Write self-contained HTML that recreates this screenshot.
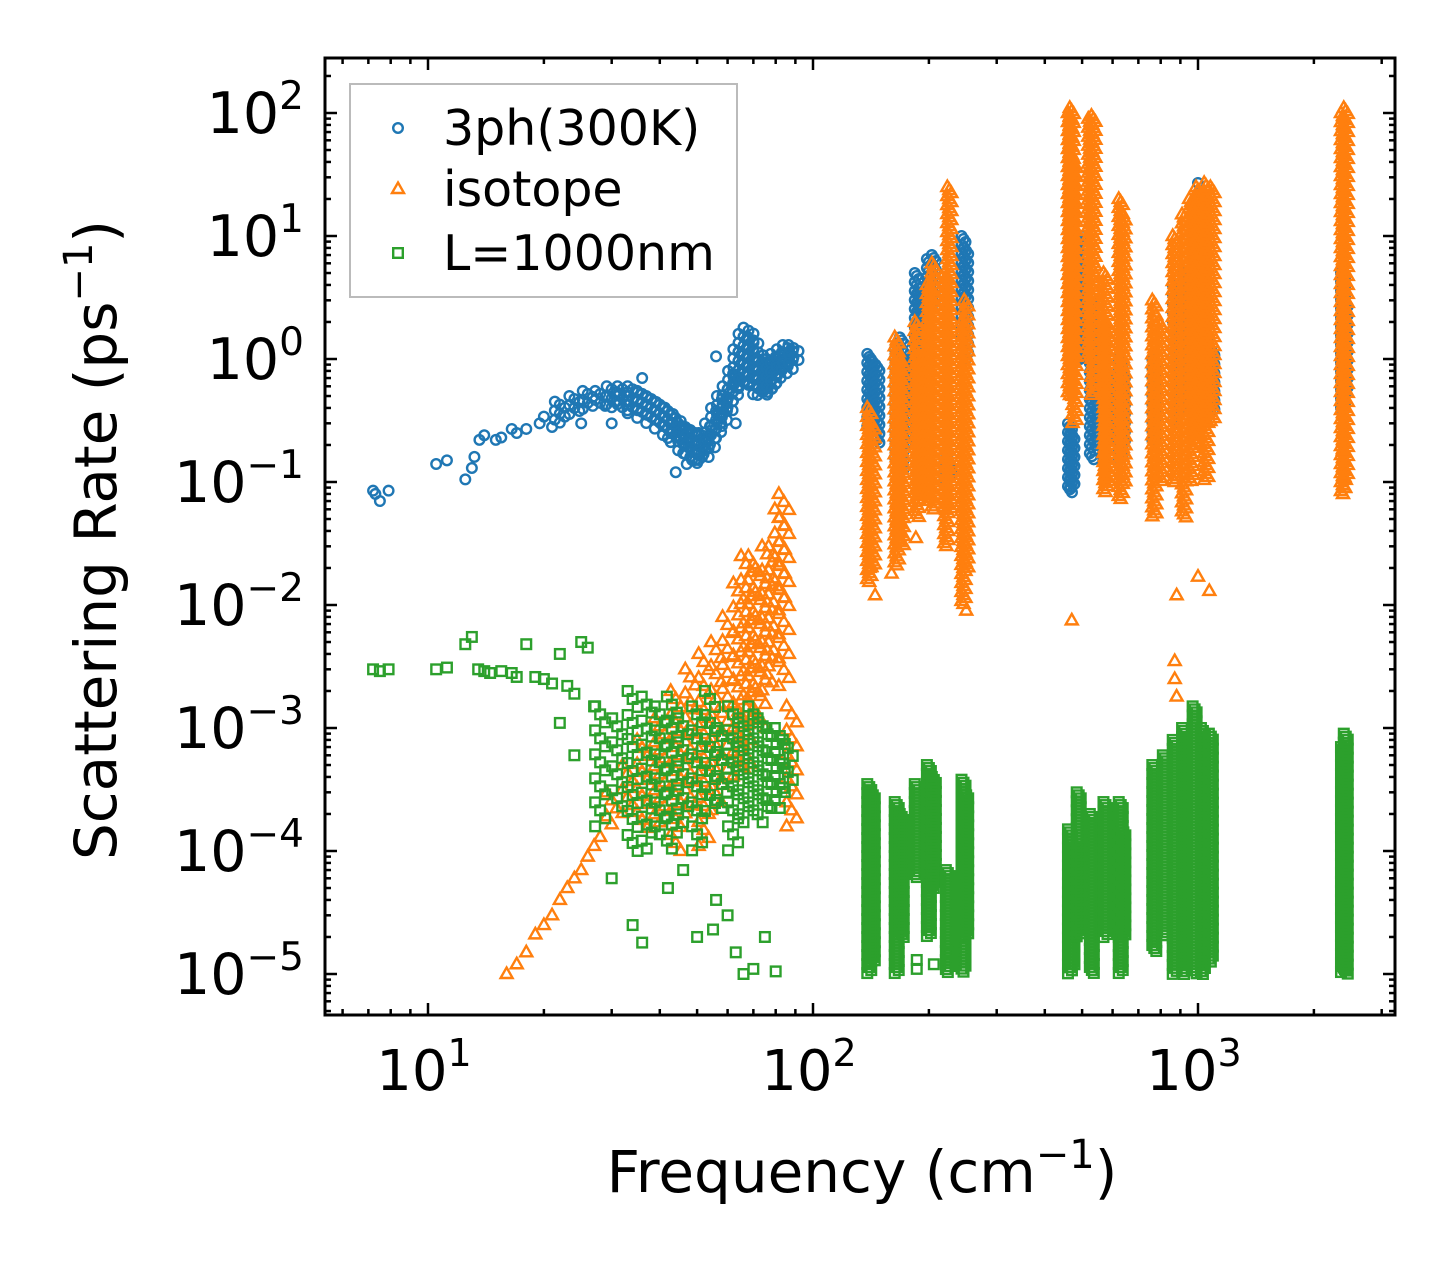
<!DOCTYPE html>
<html><head><meta charset="utf-8"><style>
html,body{margin:0;padding:0;background:#fff;}
svg{display:block;font-family:"DejaVu Sans","Liberation Sans",sans-serif;}
</style></head><body>
<svg id="chart" width="1455" height="1265" viewBox="0 0 1455 1265" xmlns="http://www.w3.org/2000/svg">
<rect width="1455" height="1265" fill="#fff"/>
<g id="marks"></g>
<g id="axes"></g>
</svg>
<script>
// ---- data (frequency cm^-1, rate ps^-1) ----
const xDecades=[1,2,3];
const yDecades=[2,1,0,-1,-2,-3,-4,-5];
// 3ph bands: freq, low, high
const phBandFreq=[22,24,26,28,30,32,34,36,38,40,42,44,46,48,50,52,54,56,58,60,62,64,66,68,70,72,74,76,78,80,83,86,89,140,143,147,165,170,175,186,190,200,206,222,226,246,250,465,472,488,495,530,537,575,630,640,770,870,920,980,1050,1090,2380,2420];
const phBandLo=[0.3,0.35,0.38,0.4,0.4,0.38,0.35,0.33,0.3,0.26,0.22,0.2,0.17,0.15,0.14,0.15,0.18,0.22,0.28,0.35,0.45,0.55,0.6,0.6,0.55,0.5,0.5,0.5,0.55,0.6,0.7,0.8,0.9,0.25,0.3,0.2,0.15,0.12,0.2,0.4,0.3,2.0,2.5,0.1,0.11,1.5,1.0,0.08,0.09,0.9,1.0,0.15,0.2,0.2,0.15,0.2,0.2,0.3,0.4,0.3,0.3,0.35,0.4,0.5];
const phBandHi=[0.45,0.5,0.55,0.55,0.6,0.6,0.6,0.55,0.5,0.45,0.4,0.35,0.3,0.28,0.25,0.25,0.3,0.4,0.5,0.6,0.8,1.2,1.6,1.8,1.5,1.2,1.0,0.9,1.0,1.1,1.2,1.3,1.3,1.1,1.0,0.9,1.2,1.5,1.0,5,3.5,6.5,7,0.15,0.14,10,8,0.3,0.25,10,6,3,2,0.8,1.0,0.8,1.0,4,5,3,1.5,1.2,5,3];
const phPtFreq=[7.2,7.3,7.5,7.9,10.5,11.2,12.5,13,13.2,13.6,14,15,15.5,16.5,17,18,19.5,20,21,25,30,36,44,47,56,63,1000,500,225];
const phPtRate=[0.085,0.08,0.07,0.085,0.14,0.15,0.105,0.13,0.16,0.22,0.24,0.22,0.23,0.27,0.25,0.27,0.3,0.34,0.28,0.3,0.3,0.7,0.12,0.14,1.05,0.3,27,10,0.15];
// isotope
const isoBandFreq=[30,33,36,40,44,48,52,56,60,64,67,70,73,76,79,82,84,88,140,143,165,170,186,190,200,206,222,226,246,250,465,470,478,525,535,575,580,630,640,770,800,870,920,960,1000,1050,1090,2380,2420];
const isoBandLo=[1.5e-4,2e-4,1.5e-4,1.5e-4,1e-4,2e-4,1e-4,2e-4,3e-4,4e-4,5e-4,1e-3,1e-3,2e-3,3e-3,0.01,2e-3,1.5e-4,0.015,0.02,0.02,0.03,0.05,0.08,0.07,0.06,0.03,0.06,0.01,0.02,0.5,1.0,0.3,1.0,0.5,0.08,0.1,0.07,0.1,0.05,0.1,0.1,0.05,0.1,0.2,0.1,0.3,0.08,0.1];
const isoBandHi=[3e-4,5e-4,8e-4,1.2e-3,2e-3,3e-3,4e-3,5e-3,8e-3,0.015,0.025,0.025,0.02,0.03,0.03,0.06,0.08,1.5e-3,0.4,0.3,1.5,1.0,2.0,1.0,4,6,5,25,2,3,100,110,40,90,95,5,2,20,15,3,2,10,15,20,25,27,25,100,110];
const isoPtFreq=[16,17,18,19,20,21,22,23,24,25,26,27,28,250,470,870,870,880,1000,1070,880,2400,2410,2380,160,145,185,140];
const isoPtRate=[1e-5,1.2e-5,1.5e-5,2.1e-5,2.5e-5,3e-5,4e-5,5e-5,6e-5,7e-5,9e-5,1.1e-4,1.3e-4,0.009,0.0075,0.0035,0.0025,0.012,0.017,0.013,0.0018,0.11,0.09,0.18,0.018,0.012,0.035,0.02];
// boundary L=1000nm
const bdBandFreq=[28,31,34,37,40,43,46,50,54,58,62,66,70,74,78,82,86,140,143,165,170,186,200,206,224,246,250,465,472,490,530,575,630,640,770,820,870,920,980,1030,1080,2380,2420];
const bdBandLo=[1.5e-4,2e-4,1e-4,1e-4,1.2e-4,1e-4,1.5e-4,1e-4,2e-4,2e-4,1e-4,1.5e-4,2e-4,1.5e-4,2e-4,2e-4,3e-4,1e-5,1.2e-5,1e-5,2e-5,6e-5,2e-5,5e-5,1e-5,1e-5,2e-5,1e-5,1.2e-5,2e-5,1e-5,2e-5,1e-5,2e-5,1.5e-5,2e-5,1e-5,1e-5,1e-5,1e-5,1.2e-5,1e-5,1e-5];
const bdBandHi=[1.5e-3,1.2e-3,2e-3,1.8e-3,1.5e-3,1.8e-3,1.2e-3,1.5e-3,2e-3,1e-3,1.5e-3,1.2e-3,1.5e-3,1.2e-3,1e-3,1e-3,8e-4,3.5e-4,3e-4,2.5e-4,2e-4,3.5e-4,5e-4,4e-4,7e-5,3.8e-4,3e-4,1.5e-4,1.2e-4,3e-4,2e-4,2.5e-4,2.5e-4,1.5e-4,5e-4,6e-4,8e-4,1e-3,1.5e-3,1e-3,9e-4,7e-4,9e-4];
const bdPtFreq=[7.2,7.5,7.9,10.5,11.2,12.5,13,13.5,14,14.5,15.5,16.5,17,18,19,20,21,22,23,24,25,26,27,22,24,34,36,42,50,56,60,63,66,70,75,80,55,46,30,186,206,224,186];
const bdPtRate=[3e-3,2.9e-3,3e-3,3e-3,3.1e-3,4.8e-3,5.5e-3,3e-3,2.9e-3,2.8e-3,2.9e-3,2.8e-3,2.6e-3,4.8e-3,2.6e-3,2.5e-3,2.3e-3,4e-3,2.2e-3,1.9e-3,5e-3,4.5e-3,1.5e-3,1.1e-3,6e-4,2.5e-5,1.8e-5,5e-5,2e-5,4e-5,3e-5,1.5e-5,1e-5,1.1e-5,2e-5,1.05e-5,2.3e-5,7e-5,6e-5,1.1e-5,1.2e-5,1.5e-5,1.3e-5];

// ---- axes functions ----
const L=325,R=1395,T=58,B=1015;
const xs=f=>428+(Math.log10(f)-1)*385;
const ys=v=>359-Math.log10(v)*123;
const NS="http://www.w3.org/2000/svg";
const marks=document.getElementById('marks'), axes=document.getElementById('axes');
function mk(tag,attrs,parent){const e=document.createElementNS(NS,tag);for(const k in attrs)e.setAttribute(k,attrs[k]);parent.appendChild(e);return e;}
const COL={ph:'#1f77b4',iso:'#ff7f0e',bd:'#2ca02c'};
function marker(kind,x,y,parent){
  let e;
  if(kind==='ph'){e=mk('circle',{cx:x,cy:y,r:4.8,fill:'none',stroke:COL.ph,'stroke-width':2.4},parent);}
  else if(kind==='iso'){e=mk('path',{d:`M${x},${y-6.5} L${x+6},${y+4} L${x-6},${y+4} Z`,fill:'none',stroke:COL.iso,'stroke-width':2.4},parent);}
  else {e=mk('rect',{x:x-4.8,y:y-4.8,width:9.6,height:9.6,fill:'none',stroke:COL.bd,'stroke-width':2.4},parent);}
  return e;
}
function series(kind,bf,blo,bhi,pf,pr,name){
  const g=mk('g',{},marks);
  
  
  for(let i=0;i<bf.length;i++){
    const x=xs(bf[i]),y1=ys(bhi[i]),y0=ys(blo[i]);
    const low=bf[i]<100;
    const step=low?(kind==='ph'?3:8):3;
    let j=0;
    for(let y=y1;y<=y0+0.1;y+=step){
      const dx=low?((j%3)-1)*5:((j%3)-1)*2;
      j++;
      const m=marker(kind,x+dx,y,g);
      
      
    }
  }
  for(let i=0;i<pf.length;i++){
    const m=marker(kind,xs(pf[i]),ys(pr[i]),g);
    
    
  }
}
series('ph',phBandFreq,phBandLo,phBandHi,phPtFreq,phPtRate,'series-3ph');
series('iso',isoBandFreq,isoBandLo,isoBandHi,isoPtFreq,isoPtRate,'series-isotope');
series('bd',bdBandFreq,bdBandLo,bdBandHi,bdPtFreq,bdPtRate,'series-boundary');

// frame
const frame=mk('rect',{x:L,y:T,width:R-L,height:B-T,fill:'none',stroke:'#000','stroke-width':3},axes);


// x ticks
for(let d=0;d<=3;d++){
  for(let k=1;k<10;k++){
    const f=k*Math.pow(10,d);const x=xs(f);
    if(x<L+1||x>R-1)continue;
    const len=k===1?12:6;
    mk('line',{x1:x,y1:B,x2:x,y2:B-len,stroke:'#000','stroke-width':2.5},axes);
    mk('line',{x1:x,y1:T,x2:x,y2:T+len,stroke:'#000','stroke-width':2.5},axes);
  }
}
for(const d of xDecades){
  const t=mk('text',{x:xs(Math.pow(10,d))-4,y:1090,'font-size':56,'text-anchor':'middle'},axes);
  
  
  t.textContent='10';
  const s=mk('tspan',{dy:-24,'font-size':38},t);s.textContent=String(d);
}
// y ticks
for(let d=-6;d<=2;d++){
  for(let k=1;k<10;k++){
    const v=k*Math.pow(10,d);const y=ys(v);
    if(y<T+1||y>B-1)continue;
    const len=k===1?12:6;
    mk('line',{x1:L,y1:y,x2:L+len,y2:y,stroke:'#000','stroke-width':2.5},axes);
    mk('line',{x1:R,y1:y,x2:R-len,y2:y,stroke:'#000','stroke-width':2.5},axes);
  }
}
for(const d of yDecades){
  const t=mk('text',{x:304,y:ys(Math.pow(10,d))+20,'font-size':57,'text-anchor':'end'},axes);
  
  
  t.textContent='10';
  const s=mk('tspan',{dy:-24,'font-size':39},t);s.textContent=(d<0?'\u2212':'')+Math.abs(d);
}
// axis titles
const xt=mk('text',{x:862,y:1192,'font-size':58,'text-anchor':'middle'},axes);


xt.innerHTML='Frequency (cm<tspan dy="-24" font-size="40">\u22121</tspan><tspan dy="24">)</tspan>';
const yt=mk('text',{x:0,y:0,'font-size':58,'text-anchor':'middle',transform:'translate(116,540) rotate(-90)'},axes);


yt.innerHTML='Scattering Rate (ps<tspan dy="-24" font-size="40">\u22121</tspan><tspan dy="24">)</tspan>';
// legend
const lg=mk('g',{},axes);


mk('rect',{x:350,y:84,width:387,height:213,fill:'#fff',stroke:'#bbb','stroke-width':2},lg);
const entries=[['ph','3ph(300K)',128],['iso','isotope',189],['bd','L=1000nm',253]];
for(const [k,label,y] of entries){
  const eg=mk('g',{},lg);
  
  
  marker(k,398,y,eg);
  const t=mk('text',{x:443,y:y+17,'font-size':49},eg);t.textContent=label;
}
</script>
</body></html>
